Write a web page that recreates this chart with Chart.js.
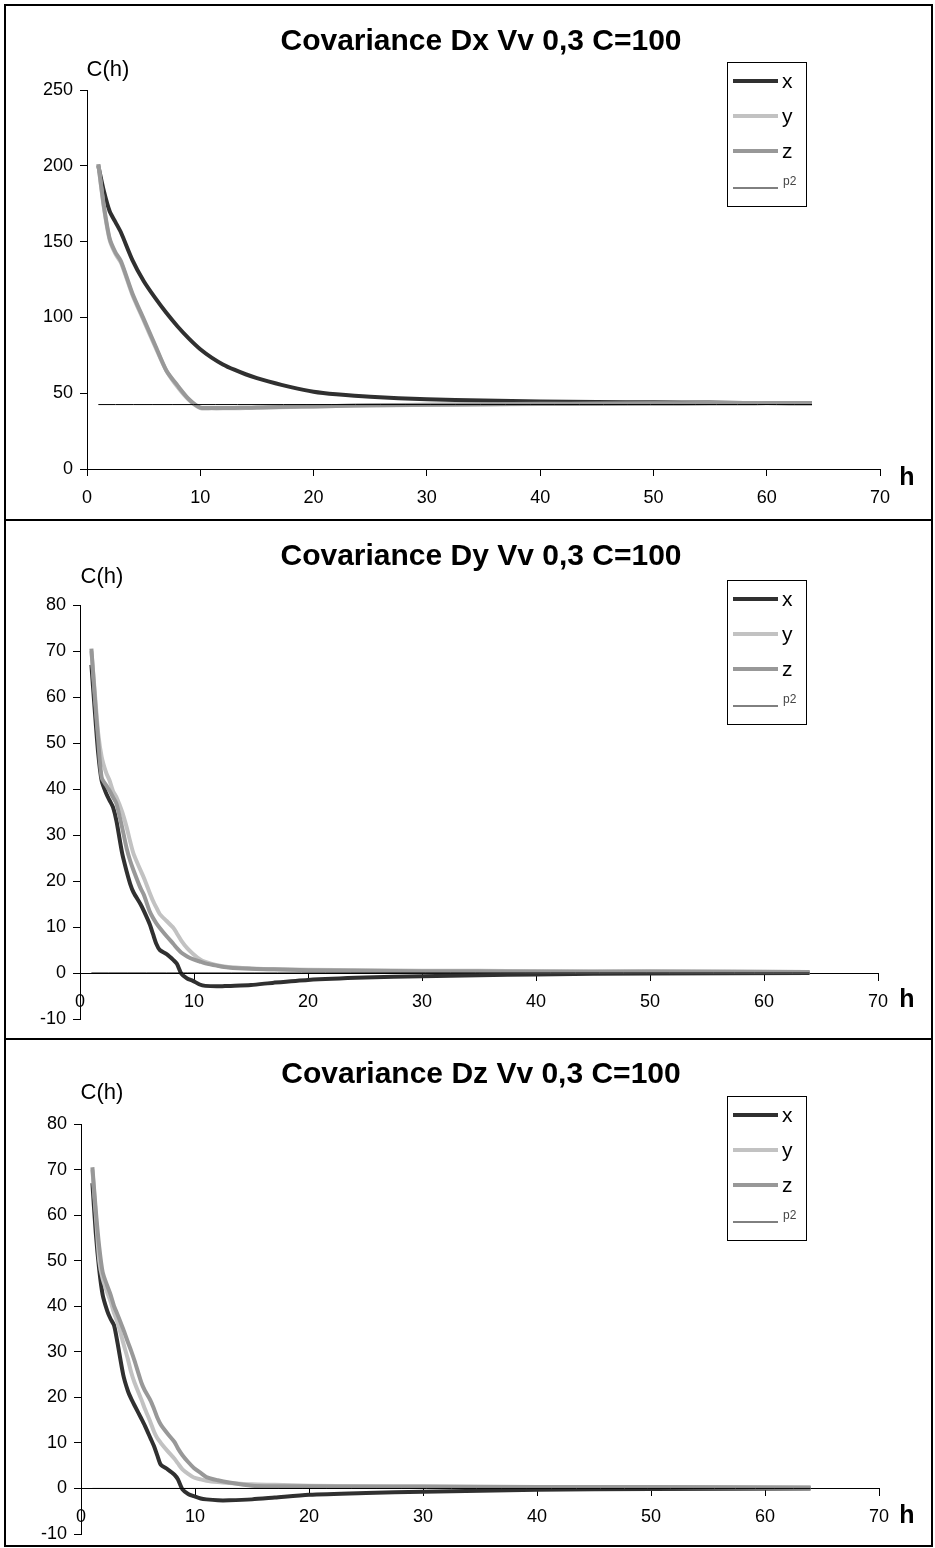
<!DOCTYPE html>
<html>
<head>
<meta charset="utf-8">
<script src="https://cdn.jsdelivr.net/npm/chart.js@4.4.0/dist/chart.umd.min.js"></script>
<style>
  body { margin: 0; background: #fff; }
  #frame { position: absolute; left: 4px; top: 4px; width: 925px; height: 1539px; border: 2px solid #000; }
  .sep { position: absolute; left: 4px; width: 929px; height: 2px; background: #000; }
  .panel { position: absolute; left: 6px; }
</style>
</head>
<body>
<div id="frame"></div>
<div class="sep" style="top:519px"></div>
<div class="sep" style="top:1038px"></div>
<div class="panel" style="top:6px"><canvas id="c1" width="924" height="513"></canvas></div>
<div class="panel" style="top:521px"><canvas id="c2" width="924" height="517"></canvas></div>
<div class="panel" style="top:1040px"><canvas id="c3" width="924" height="505"></canvas></div>
<script>
// ---- data ----
const seriesNames = ['x', 'y', 'z', 'p2'];

// Dx panel
const hDx = [1, 1.5, 2, 2.5, 3, 4, 5, 6, 7, 8, 9, 10, 11, 12, 13, 14, 15, 16, 18, 20, 22, 25, 30, 35, 40, 45, 50, 55, 58, 60, 64];
const dxX = [200, 183, 170, 163, 156, 138, 124, 113, 103, 94, 86, 79, 73.5, 69, 65.5, 62.5, 60, 57.8, 54, 51, 49.3, 47.6, 46, 45.2, 44.6, 44.2, 44, 43.8, 43.6, 43.5, 43.3];
const dxY = [201, 172, 151, 142, 136, 115, 98, 81, 65, 54, 45.5, 40.2, 40, 40, 40.1, 40.2, 40.4, 40.6, 40.9, 41.2, 41.5, 41.9, 42.3, 42.6, 42.9, 43, 43.2, 43.3, 43.4, 43.5, 43.6];
const dxZ = [201, 173, 152, 143, 137, 116, 99, 82, 65, 55, 46, 40.5, 40.3, 40.3, 40.3, 40.4, 40.5, 40.7, 41, 41.3, 41.6, 42, 42.4, 42.7, 43, 43.1, 43.2, 43.3, 43.4, 43.5, 43.6];
const hDxP2 = [1, 64];
const dxP2 = [42.5, 42.5];

// Dy and Dz panels share the same h grid
const hD = [1, 1.3, 1.6, 1.9, 2.3, 2.6, 2.9, 3.2, 3.7, 4.1, 4.4, 4.7, 5.3, 5.6, 6.1, 6.4, 6.7, 7, 7.6, 8.2, 8.5, 8.9, 9.4, 9.9, 10.5, 11, 12, 13, 15, 17, 20, 25, 30, 35, 40, 50, 64];
const dyX = [67, 57, 47.7, 41.8, 39, 37.5, 36, 33, 26, 22, 19.4, 17.5, 15, 13.5, 10.7, 8.5, 6.3, 5, 4.1, 2.8, 2, -0.2, -1.2, -1.7, -2.5, -2.8, -2.9, -2.8, -2.6, -2.1, -1.5, -1, -0.7, -0.5, -0.3, -0.1, 0];
const dyY = [70, 61, 52, 47, 43.5, 41.8, 39.5, 38.2, 35, 31.6, 28.6, 25.9, 22.4, 20.7, 17.5, 15.7, 14.2, 12.8, 11.3, 9.8, 8.6, 7, 5.4, 4.2, 3, 2.4, 1.7, 1.3, 1, 0.8, 0.7, 0.6, 0.5, 0.5, 0.4, 0.4, 0.2];
const dyZ = [70.5, 60, 50.5, 42.5, 40.8, 39.6, 38.2, 36.8, 31.6, 27, 24.4, 22.3, 18.5, 17, 13.5, 12, 10.8, 9.8, 8, 6.3, 5.4, 4.4, 3.6, 3, 2.5, 2.1, 1.6, 1.2, 0.9, 0.8, 0.6, 0.5, 0.4, 0.4, 0.3, 0.3, 0.2];
const dzX = [67, 56, 48, 42.5, 39, 37.2, 35.8, 32, 25, 21.5, 19.7, 18.2, 15.3, 13.8, 11, 9.3, 7.2, 5.2, 4.2, 3, 2, -0.2, -1.2, -1.7, -2.2, -2.4, -2.6, -2.6, -2.4, -2, -1.4, -1, -0.7, -0.5, -0.3, -0.1, 0];
const dzY = [70, 60, 50, 46, 43, 41, 38.5, 36.5, 32, 28.5, 25.5, 23.2, 19.5, 17.5, 14.5, 12.5, 11, 10, 8.2, 6.5, 5.5, 4.2, 3.2, 2.4, 2, 1.7, 1.4, 1.2, 0.9, 0.8, 0.6, 0.5, 0.4, 0.4, 0.3, 0.3, 0.2];
const dzZ = [70.5, 61, 53, 47.5, 44.5, 42.5, 40, 38.2, 35, 32.2, 30.2, 28, 23.2, 21.5, 19.3, 17.5, 15.5, 14, 12, 10.2, 8.8, 7.3, 5.8, 4.5, 3.4, 2.5, 1.8, 1.3, 0.6, 0.5, 0.5, 0.4, 0.4, 0.3, 0.3, 0.3, 0.2];
const hP2 = [1, 64];
const dP2 = [0, 0];

// tick labels
const xTicks = [0, 10, 20, 30, 40, 50, 60, 70];
const yTicksDx = [0, 50, 100, 150, 200, 250];
const yTicksD = [-10, 0, 10, 20, 30, 40, 50, 60, 70, 80];

// ---- styles ----
const FONT = "'Liberation Sans', Arial, sans-serif";
const colors = { x: '#303030', y: '#c2c2c2', z: '#989898', p2: '#000000' };

function pts(h, v) { return h.map((hv, i) => ({ x: hv, y: v[i] })); }

// titles, C(h), h, legend box
const decorations = {
  id: 'decorations',
  afterDraw(chart, args, o) {
    const ctx = chart.ctx;
    ctx.save();
    ctx.fillStyle = '#000';
    ctx.textBaseline = 'middle';
    ctx.textAlign = 'center';
    ctx.font = 'bold 30px ' + FONT;
    ctx.fillText(o.title, o.titleX, o.titleY);
    ctx.font = '22px ' + FONT;
    ctx.fillText('C(h)', o.chX, o.chY);
    ctx.font = 'bold 25px ' + FONT;
    ctx.fillText('h', o.hX, o.hY);

    // legend
    const lx = o.legX, ly = o.legY;
    ctx.strokeStyle = '#000';
    ctx.lineWidth = 1;
    ctx.strokeRect(lx + 0.5, ly + 0.5, 79, 144);
    const rows = [19, 54, 89, 126];
    chart.data.datasets.forEach((ds, i) => {
      const y = ly + rows[i];
      ctx.strokeStyle = ds.borderColor;
      ctx.lineWidth = ds.borderWidth;
      ctx.beginPath();
      ctx.moveTo(lx + 6, y);
      ctx.lineTo(lx + 51, y);
      ctx.stroke();
      ctx.textAlign = 'left';
      ctx.fillStyle = '#000';
      if (ds.label === 'p2') {
        ctx.font = '12px ' + FONT;
        ctx.fillStyle = '#444';
        ctx.fillText(ds.label, lx + 56, y - 6);
      } else {
        ctx.font = '21px ' + FONT;
        ctx.fillText(ds.label, lx + 55, y + 1);
      }
    });
    ctx.restore();
  }
};

function makePanel(id, sets, yMin, yMax, yTicks, deco, pad, atZero) {
  const ds = sets.map((s, i) => ({
    label: seriesNames[i],
    data: s,
    borderColor: colors[seriesNames[i]],
    borderWidth: seriesNames[i] === 'p2' ? 1 : 4,
    pointRadius: 0,
    tension: 0.25,
    fill: false,
    order: [3, 2, 1, 0][i]
  }));
  const axisCommon = {
    grid: { drawOnChartArea: false, color: '#000', tickLength: 7, tickWidth: 1 },
    border: { color: '#000', width: 1 }
  };
  return new Chart(document.getElementById(id), {
    type: 'line',
    data: { datasets: ds },
    plugins: [decorations],
    options: {
      responsive: false,
      animation: false,
      layout: { padding: pad },
      plugins: {
        legend: { display: false },
        title: { display: false },
        tooltip: { enabled: false },
        decorations: deco
      },
      scales: {
        x: Object.assign({}, axisCommon, {
          type: 'linear',
          position: atZero ? { y: 0 } : 'bottom',
          min: 0, max: 70,
          afterBuildTicks: s => { s.ticks = xTicks.map(v => ({ value: v })); },
          afterFit: s => { if (!atZero) s.height = 42; },
          ticks: { color: '#000', font: { family: FONT, size: 18 }, maxRotation: 0, padding: 11 }
        }),
        y: Object.assign({}, axisCommon, {
          min: yMin, max: yMax,
          afterBuildTicks: s => { s.ticks = yTicks.map(v => ({ value: v })); },
          afterFit: s => { s.width = 60; s.paddingTop = 0; s.paddingBottom = 0; },
          ticks: { color: '#000', font: { family: FONT, size: 18 }, padding: 7 }
        })
      }
    }
  });
}

makePanel('c1', [pts(hDx, dxX), pts(hDx, dxY), pts(hDx, dxZ), pts(hDxP2, dxP2)],
  0, 250, yTicksDx,
  { title: 'Covariance Dx Vv 0,3 C=100', titleX: 475, titleY: 36, chX: 102, chY: 64, hX: 901, hY: 472, legX: 721, legY: 56 },
  { left: 21, right: 50, top: 84, bottom: 8 }, false);

makePanel('c2', [pts(hD, dyX), pts(hD, dyY), pts(hD, dyZ), pts(hP2, dP2)],
  -10, 80, yTicksD,
  { title: 'Covariance Dy Vv 0,3 C=100', titleX: 475, titleY: 36, chX: 96, chY: 56, hX: 901, hY: 479, legX: 721, legY: 59 },
  { left: 14, right: 52, top: 84, bottom: 19 }, true);

makePanel('c3', [pts(hD, dzX), pts(hD, dzY), pts(hD, dzZ), pts(hP2, dP2)],
  -10, 80, yTicksD,
  { title: 'Covariance Dz Vv 0,3 C=100', titleX: 475, titleY: 35, chX: 96, chY: 53, hX: 901, hY: 476, legX: 721, legY: 56 },
  { left: 15, right: 51, top: 84, bottom: 11 }, true);
</script>
</body>
</html>
